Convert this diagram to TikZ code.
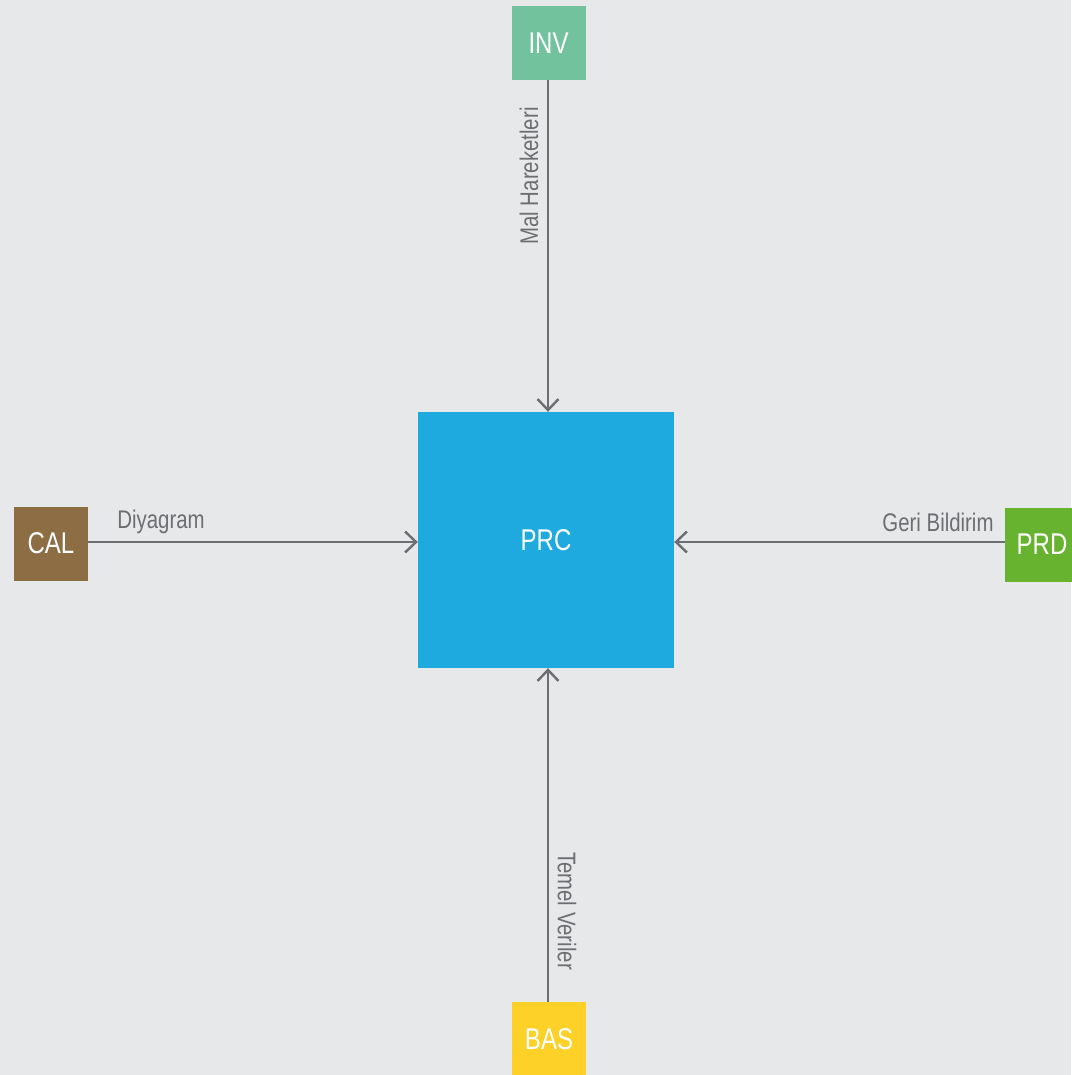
\documentclass[tikz,border=0pt]{standalone}
\usepackage{fontspec}
\setmainfont[FakeStretch=0.8]{Liberation Sans}
\usetikzlibrary{arrows.meta}
\definecolor{bg}{HTML}{E7E8EA}
\definecolor{linegray}{HTML}{6D6E71}
\definecolor{invc}{HTML}{72C39D}
\definecolor{calc}{HTML}{8C6D44}
\definecolor{prcc}{HTML}{1FAADF}
\definecolor{prdc}{HTML}{67B22E}
\definecolor{basc}{HTML}{FDD128}
\begin{document}
\begin{tikzpicture}[x=1pt,y=-1pt,
  box/.style={draw=none,minimum size=74pt,inner sep=0pt,text=white,font=\fontsize{30}{34}\selectfont},
  bigbox/.style={box,minimum size=256pt},
  conn/.style={draw=linegray,line width=2.6pt,-{Straight Barb[length=11pt,width=21pt,line width=2.4pt]}},
  lbl/.style={text=linegray,inner sep=0pt,font=\fontsize{25.5}{28}\selectfont}
]
\fill[bg] (0,0) rectangle (1071,1075);
\useasboundingbox (0,0) rectangle (1071,1075);
\node[bigbox,fill=prcc] (prc) at (546,540) {PRC};
\node[box,fill=invc] (inv) at (548.5,43) {INV};
\node[box,fill=calc] (cal) at (51,543.5) {CAL};
\node[box,fill=prdc] (prd) at (1042,544.5) {PRD};
\node[box,fill=basc] (bas) at (549,1039) {BAS};
\coordinate (invs) at (548,80);
\coordinate (bast) at (548,1002);
\draw[conn] (invs) -- (invs |- prc.north);
\draw[conn] (bast) -- (bast |- prc.south);
\draw[conn] (cal.east |- 0,542) -- (prc.west |- 0,542);
\draw[conn] (prd.west |- 0,542) -- (prc.east |- 0,542);
\node[lbl,rotate=90] (l1) at (529,176) {Mal Hareketleri};
\node[lbl] (l2) at (161,522) {Diyagram};
\node[lbl] (l3) at (938,522) {Geri Bildirim};
\node[lbl,rotate=-90] (l4) at (567,911) {Temel Veriler};
\end{tikzpicture}
\end{document}
